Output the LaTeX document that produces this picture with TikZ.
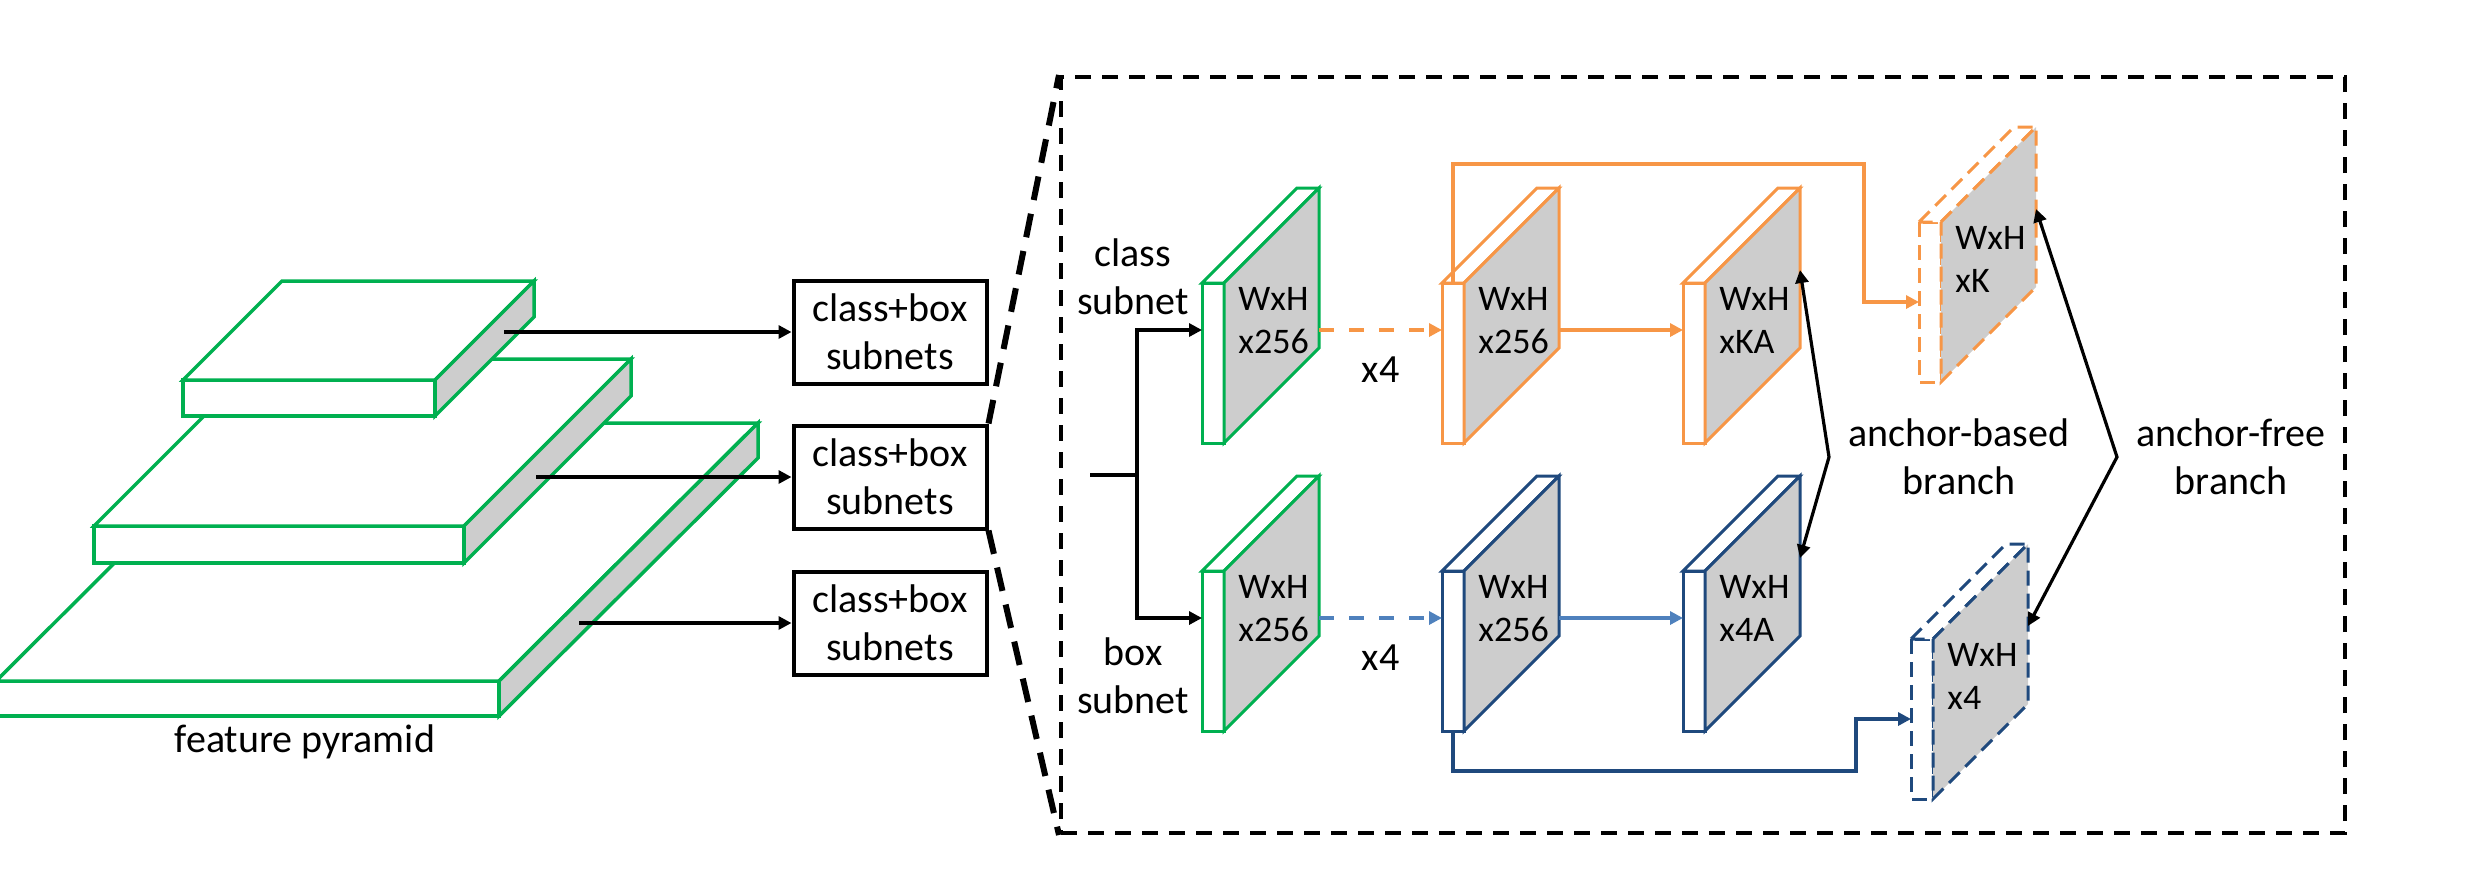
\documentclass[tikz,border=0pt]{standalone}
\usepackage{fontspec}
\setmainfont{Carlito}
\usetikzlibrary{arrows.meta}

\definecolor{cgreen}{RGB}{0,176,80}
\definecolor{corange}{RGB}{247,150,70}
\definecolor{cnavy}{RGB}{31,73,125}
\definecolor{cblue}{RGB}{79,129,189}
\definecolor{cgray}{RGB}{205,205,205}

\begin{document}
\begin{tikzpicture}[x=0.5pt,y=-0.5pt,every node/.style={align=center,font=\fontsize{20}{24}\selectfont},
	pyr/.style={draw=cgreen,line width=1.75pt,fill=white},
	slabline/.style={draw,line width=1.5pt},
	slabtext/.style={anchor=base west,align=left,inner sep=0pt,text=black,font=\fontsize{18}{21.5}\selectfont},
	slab/.pic={
		\path[slabline,fill=white] (0,0) rectangle (22,160); % front
		\path[slabline,fill=white] (0,0) -- (95,-95) -- (117,-95) -- (22,0) -- cycle; % top
		\path[slabline,fill=cgray] (22,0) -- (117,-95) -- (117,65) -- (22,160) -- cycle; % side
		\node[slabtext] (-t) at (36,70) {\tikzpictext}; % base = last line
		\coordinate (-in) at (0,47);
		\coordinate (-out) at (117,47);
		\coordinate (-mid) at (0,80);
		\coordinate (-top) at (11,0);
		\coordinate (-bot) at (11,160);
		\coordinate (-back) at (117,-13);
	},
	afdash/.style={dash pattern=on 7.5pt off 4pt},
	subnetbox/.style={draw,line width=2pt,minimum width=96.5pt,minimum height=51.5pt,inner sep=0pt},
	zoomframe/.style={draw,line width=2pt,dash pattern=on 8pt off 5.5pt,minimum width=642pt,minimum height=378pt,inner sep=0pt},
	zoomline/.style={draw,line width=3pt,dash pattern=on 12pt off 7pt},
	blk/.style={draw=black,line width=1.6pt},
	oline/.style={draw=corange,line width=2pt},
	nline/.style={draw=cnavy,line width=2pt},
	bline/.style={draw=cblue,line width=2pt},
	ddash/.style={dash pattern=on 7.5pt off 7.5pt},
	arr/.style={-{Triangle[length=6.5pt,width=6.5pt]}},
	darr/.style={{Triangle[length=6.5pt,width=6.5pt]}-{Triangle[length=6.5pt,width=6.5pt]}}]
	\useasboundingbox (0,0) rectangle (2474,880);
	
	% feature pyramid, lowest level first
	\draw[pyr] (-4,681) rectangle (499,716);
	\draw[pyr] (-4,681) -- (255,423) -- (758,423) -- (499,681) -- cycle;
	\draw[pyr,fill=cgray] (499,681) -- (758,423) -- (758,458) -- (499,716) -- cycle;
	\draw[pyr] (94,526) rectangle (464,563);
	\draw[pyr] (94,526) -- (261,359) -- (631,359) -- (464,526) -- cycle;
	\draw[pyr,fill=cgray] (464,526) -- (631,359) -- (631,396) -- (464,563) -- cycle;
	\draw[pyr] (183,380) rectangle (435,416);
	\draw[pyr] (183,380) -- (282,281) -- (534,281) -- (435,380) -- cycle;
	\draw[pyr,fill=cgray] (435,380) -- (534,281) -- (534,317) -- (435,416) -- cycle;
	\coordinate (p1) at (504,332);
	\coordinate (p2) at (536,477);
	\coordinate (p3) at (579,623);
	\node (fp) at (305,742) {feature pyramid};
	
	\node[subnetbox] (sn1) at (890,332) {class+box\\subnets};
	\node[subnetbox] (sn2) at (890,477) {class+box\\subnets};
	\node[subnetbox] (sn3) at (890,623) {class+box\\subnets};
	\draw[blk,arr] (p1) -- (sn1);
	\draw[blk,arr] (p2) -- (sn2);
	\draw[blk,arr] (p3) -- (sn3);
	
	% zoomed head
	\node[zoomframe] (zf) at (1703,455) {};
	\draw[zoomline] (sn2.north east) -- (zf.north west);
	\draw[zoomline] (sn2.south east) -- (zf.south west);
	
	\pic[color=cgreen,pic text={WxH\\x256}] (c0) at (1202,283) {slab};
	\pic[color=corange,pic text={WxH\\x256}] (c1) at (1442,283) {slab};
	\pic[color=corange,pic text={WxH\\xKA}] (c2) at (1683,283) {slab};
	\pic[color=corange,afdash,pic text={WxH\\xK}] (k) at (1919,222) {slab};
	\pic[color=cgreen,pic text={WxH\\x256}] (b0) at (1202,571) {slab};
	\pic[color=cnavy,pic text={WxH\\x256}] (b1) at (1442,571) {slab};
	\pic[color=cnavy,pic text={WxH\\x4A}] (b2) at (1683,571) {slab};
	\pic[color=cnavy,afdash,pic text={WxH\\x4}] (f) at (1911,639) {slab};
	
	\coordinate (split) at (1090,475);
	\coordinate (jn) at (1137,475);
	\draw[blk] (split) -- (jn);
	\draw[blk,arr] (jn) |- (c0-in);
	\draw[blk,arr] (jn) |- (b0-in);
	\node (clsn) at (1133,277) {class\\subnet};
	\node (boxsn) at (1133,676) {box\\subnet};
	
	\draw[oline,ddash,arr] (c0-out) -- node[below=9pt] {x4} (c1-in);
	\draw[oline,arr] (c1-out) -- (c2-in);
	\draw[oline,arr] (c1-top) |- (1864,164) |- (k-mid); % to anchor-free
	\draw[bline,ddash,arr] (b0-out) -- node[below=9pt] {x4} (b1-in);
	\draw[bline,arr] (b1-out) -- (b2-in);
	\draw[nline,arr] (b1-bot) |- (1856,771) |- (f-mid); % to anchor-free
	
	\draw[blk,darr] (c2-back) -- (1829,457) -- (b2-back);
	\draw[blk,darr] (k-back) -- (2117,457) -- (f-back);
	\node (ab) at (1959,457) {anchor-based\\branch};
	\node (af) at (2231,457) {anchor-free\\branch};
\end{tikzpicture}
\end{document}
